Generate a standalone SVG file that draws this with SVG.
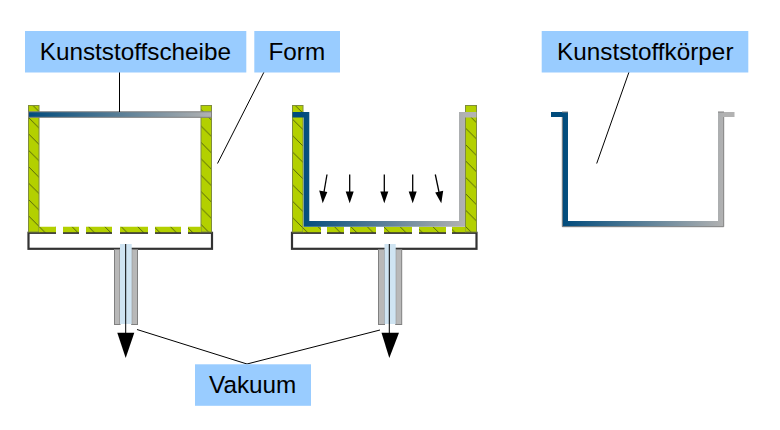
<svg xmlns="http://www.w3.org/2000/svg" width="780" height="430" viewBox="0 0 780 430">
<style>
.lbl{fill:#99ccff}
.t{font-family:"Liberation Sans",Arial,sans-serif;font-size:24.3px;fill:#000}
.wall{fill:url(#hatch);stroke:#7f8c3c;stroke-width:1}
.floor{fill:url(#hatch)}
.base{fill:#fff;stroke:#333;stroke-width:2.2}
.gap{fill:#fff}
.tube{fill:#b8b8b8;stroke:#808080;stroke-width:1}
.vac{fill:#cfe4f2}
.ln{stroke:#000;stroke-width:1;fill:none}
.ar{stroke:#000;stroke-width:1.3;fill:none}
.sheet{stroke:#808080;stroke-width:1}
</style>
<defs>
<pattern id="hatch" patternUnits="userSpaceOnUse" x="0" y="7" width="16.4" height="16.4">
<rect width="16.4" height="16.4" fill="#b3d000"/>
<path d="M-1,-1L17.4,17.4" stroke="#3c4a10" stroke-width="0.8"/>
</pattern>
<linearGradient id="g1" gradientUnits="userSpaceOnUse" x1="28" y1="0" x2="212" y2="0"><stop offset="0" stop-color="#004b7c"/><stop offset="1" stop-color="#b2b2b2"/></linearGradient>
<linearGradient id="g2" gradientUnits="userSpaceOnUse" x1="300" y1="0" x2="465" y2="0"><stop offset="0" stop-color="#004b7c"/><stop offset="1" stop-color="#b2b2b2"/></linearGradient>
<linearGradient id="g3" gradientUnits="userSpaceOnUse" x1="562" y1="0" x2="724" y2="0"><stop offset="0" stop-color="#004b7c"/><stop offset="1" stop-color="#b2b2b2"/></linearGradient>
</defs>
<rect width="780" height="430" fill="#fff"/>

<g id="mold-left">
<rect class="base" x="28.5" y="232.8" width="183.5" height="16"/>
<path class="gap" d="M56,226h7v8h-7zM79,226h7v8h-7zM112,226h8v8h-8zM148,226h7v8h-7zM181,226h7v8h-7z"/>
<rect class="wall" x="28.5" y="105.5" width="10.5" height="126.5"/>
<rect class="wall" x="201" y="105.5" width="10.5" height="126.5"/>
<path class="floor" d="M39,226.7h17v5.5h-17zM63,226.7h16v5.5h-16zM86,226.7h26v5.5h-26zM120,226.7h28v5.5h-28zM155,226.7h26v5.5h-26zM188,226.7h13v5.5h-13z"/>
<rect x="28.5" y="111.8" width="183" height="5.5" fill="url(#g1)" class="sheet"/>
<rect class="tube" x="114.5" y="249.5" width="5.5" height="75"/>
<rect class="tube" x="131.7" y="249.5" width="5.8" height="75"/>
<rect class="vac" x="120" y="244" width="11.7" height="80"/>
</g>

<g id="mold-middle">
<rect class="base" x="292" y="232.8" width="184.5" height="16"/>
<path class="gap" d="M321,226h6v8h-6zM344,226h6v8h-6zM376,226h8v8h-8zM412,226h7v8h-7zM446,226h6v8h-6z"/>
<rect class="wall" x="292.5" y="105.5" width="10.5" height="126.5"/>
<rect class="wall" x="465.5" y="105.5" width="11" height="126.5"/>
<path class="floor" d="M303,226.7h18v5.5h-18zM327,226.7h17v5.5h-17zM350,226.7h26v5.5h-26zM384,226.7h28v5.5h-28zM419,226.7h27v5.5h-27zM452,226.7h13.5v5.5h-13.5z"/>
<path fill="url(#g2)" d="M292.5,112H309.3V221H459V112H476.5V117.5H465V226.7H303.7V117.5H292.5Z"/>
<rect class="tube" x="378.5" y="249.5" width="6" height="75"/>
<rect class="tube" x="395.7" y="249.5" width="6" height="75"/>
<rect class="vac" x="384.5" y="244" width="11.2" height="80"/>
</g>

<g id="body-right">
<path fill="url(#g3)" d="M551,112H568V221H718V112H734.5V117H723.7V226.7H562.3V117H551Z"/>
<path fill="none" stroke="#808080" stroke-width="1" d="M562,112H568M718,112H724M562.3,117V226.7H723.7V117"/>
</g>

<g id="connectors">
<path class="ln" d="M119.5,72V112"/>
<path class="ln" d="M264,72L217.5,163.5"/>
<path class="ln" d="M629,72L596.7,163.5"/>
<path class="ln" d="M137,329.5L247,364L380,330"/>
<path class="ar" d="M327,174.5L324,192"/>
<path class="ar" d="M349.7,174.5V192"/>
<path class="ar" d="M384.3,174.5V192"/>
<path class="ar" d="M412.7,174.5V192"/>
<path class="ar" d="M435.3,174.5L439,192"/>
<path d="M319.2,190.5L327.3,192L322.7,203.3Z"/>
<path d="M345.7,191.5H353.7L349.7,203.3Z"/>
<path d="M380.3,191.5H388.3L384.3,203.3Z"/>
<path d="M408.7,191.5H416.7L412.7,203.3Z"/>
<path d="M435.2,192.5L443.2,190.8L441.3,203.3Z"/>
<path class="ln" d="M125.7,244V334" stroke-width="1.2"/>
<path d="M117.3,332.7H134.3L125.7,358Z"/>
<path class="ln" d="M389.3,244V334" stroke-width="1.2"/>
<path d="M381.5,332.7H399L389.3,358Z"/>
</g>

<g id="label-scheibe">
<rect class="lbl" x="25" y="31" width="221.3" height="41.5"/>
<text class="t" x="39.7" y="60">Kunststoffscheibe</text>
</g>
<g id="label-form">
<rect class="lbl" x="254.3" y="31" width="85.7" height="41.5"/>
<text class="t" x="268.5" y="60">Form</text>
</g>
<g id="label-koerper">
<rect class="lbl" x="541.7" y="31" width="206.6" height="41.5"/>
<text class="t" x="557" y="60">Kunststoffkörper</text>
</g>
<g id="label-vakuum">
<rect class="lbl" x="195" y="364.3" width="116" height="41.5"/>
<text class="t" x="209" y="393">Vakuum</text>
</g>
</svg>
